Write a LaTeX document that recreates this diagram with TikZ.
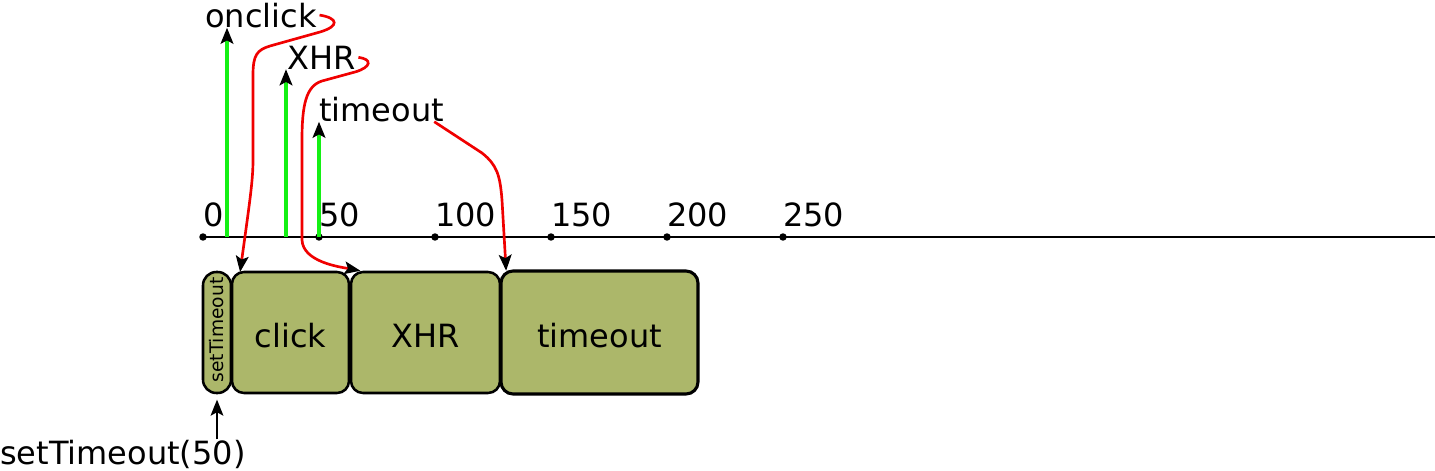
\documentclass[tikz,border=0pt]{standalone}
\usepackage{fontspec}
\setmainfont{DejaVu Sans}
\usetikzlibrary{arrows.meta}
\definecolor{olivebox}{RGB}{172,183,106}
\definecolor{evgreen}{RGB}{20,240,20}
\definecolor{cbred}{RGB}{240,0,0}
\tikzset{
  tick/.style={anchor=base west,inner sep=0pt,font=\fontsize{24}{29}\selectfont},
  lbl/.style={anchor=base west,inner sep=0pt,font=\fontsize{24}{29}\selectfont},
  taskbox/.style={draw=black,line width=1.9pt,fill=olivebox,rounded corners=9pt,inner sep=0pt,
    minimum height=90.75pt,text height=23pt,text depth=0pt,font=\fontsize{24}{29}\selectfont},
  tip/.style={-{Stealth[length=12pt,width=9.5pt,inset=2.5pt,black]}},
  evline/.style={tip,draw=evgreen,line width=2.3pt},
  cbline/.style={tip,draw=cbred,line width=2pt}
}
\begin{document}
\begin{tikzpicture}[x=0.75pt,y=0.75pt,yscale=-1,xscale=1]
\useasboundingbox (0,0) rectangle (1435,471);

% time axis
\draw[line width=1.5pt] (203,237) -- (1435,237);
\foreach \t [count=\i from 0] in {0,50,100,150,200,250}{
  \fill (203+116*\i,237) circle (2.8pt);
  \node[tick] (tk\i) at (203+116*\i,226) {\t};
}

% event times on the axis
\coordinate (tclick) at (227,237);
\coordinate (txhr) at (286,237);
\coordinate (ttmo) at (319,237);

% Text Node
\node[lbl] (onclick) at (205,27) {onclick};
\node[lbl] (xhr) at (287,69) {XHR};
\node[lbl] (tmo) at (319,121) {timeout};

% queue
\node[taskbox,minimum width=21pt,rounded corners=10pt] (sto) at (217,332.5) {};
\node[rotate=90,inner sep=0pt,font=\fontsize{14}{17}\selectfont] (stotxt) at (217,330) {setTimeout};
\node[taskbox,minimum width=87.75pt] (click) at (290.5,332.5) {click};
\node[taskbox,minimum width=111.75pt] (xhrbox) at (425.5,332.5) {XHR};
\node[taskbox,minimum width=147.75pt,minimum height=92.25pt,line width=2.3pt] (tmobox) at (599.5,332.5) {timeout};

% call
\node[lbl] (call) at (0,464) {setTimeout(50)};
\draw[tip,line width=1.5pt] (call.north -| sto.south) -- ([yshift=4pt]sto.south);

% events
\draw[evline] (tclick) -- (tclick |- onclick.south);
\draw[evline] (txhr) -- (txhr |- xhr.south);
\draw[evline] (ttmo) -- (ttmo |- tmo.south);

% callbacks
\draw[cbline] ([xshift=2pt]onclick.east) .. controls (338,18) and (340,26) .. (320,32)
  -- (270,46) .. controls (257,50) and (253,55) .. (253,75) -- (253,160)
  .. controls (253,180) and (250,200) .. ([xshift=7pt,yshift=1pt]click.north west);
\draw[cbline] ([xshift=2pt]xhr.east) .. controls (372,59) and (372,67) .. (355,72)
  -- (322,81) .. controls (306,86) and (302,105) .. (302,140) -- (302,240)
  .. controls (303,262) and (340,267) .. ([xshift=8pt]xhrbox.north west);
\draw[cbline] ([xshift=-7.5pt]tmo.south east) -- (482,153)
  .. controls (497,165) and (500,175) .. (502,200) -- ([xshift=5pt,yshift=1pt]tmobox.north west);

\end{tikzpicture}
\end{document}
